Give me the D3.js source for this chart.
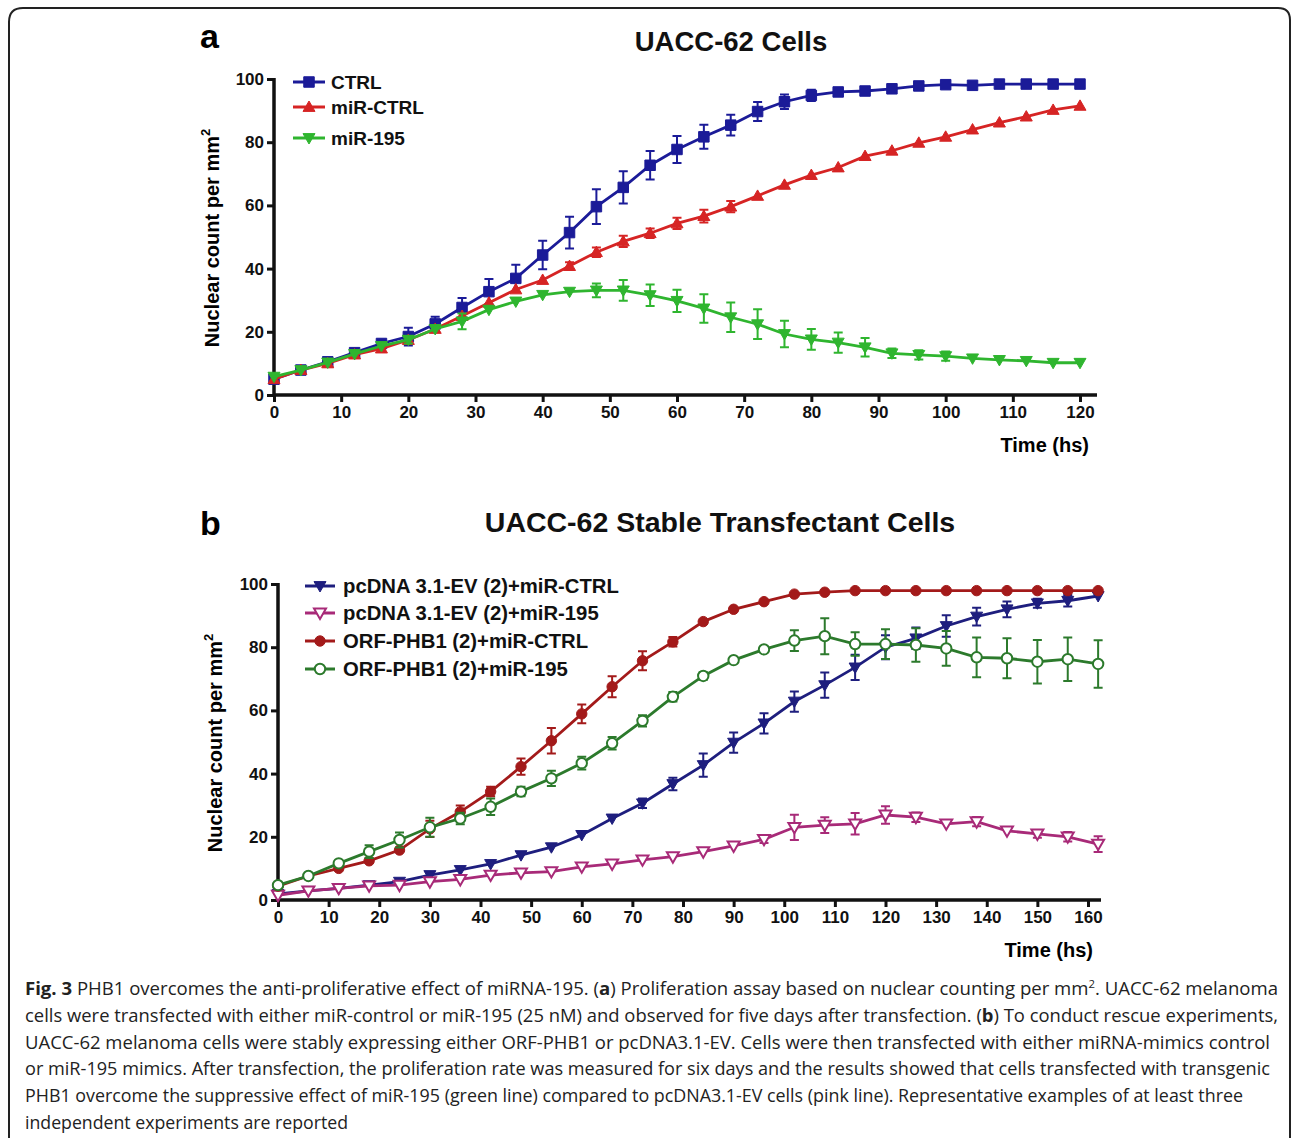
<!doctype html>
<html>
<head>
<meta charset="utf-8">
<style>
  body { margin: 0; background: #fff; }
  svg { display: block; }
</style>
</head>
<body>
<svg width="1293" height="1138"></svg>
<script src="https://d3js.org/d3.v7.min.js"></script>
<script>
  // ---- panel a data (hours, nuclear count per mm2, SEM) ----
  const timeA = [0, 4, 8, 12, 16, 20, 24, 28, 32, 36, 40, 44, 48, 52, 56, 60, 64, 68, 72, 76, 80, 84, 88, 92, 96, 100, 104, 108, 112, 116, 120];
  const ctrl = [5.0, 7.9, 10.5, 13.4, 16.3, 18.5, 22.5, 27.7, 32.7, 36.9, 44.3, 51.4, 59.6, 65.7, 72.7, 77.7, 81.7, 85.4, 89.7, 92.8, 94.8, 95.9, 96.2, 96.9, 97.8, 98.2, 98.0, 98.4, 98.4, 98.4, 98.4];
  const ctrlErr = [0.8, 0.8, 0.8, 1, 1.2, 2.8, 2.3, 3, 4, 4.3, 4.5, 5, 5.5, 5.1, 4.5, 4.3, 3.8, 3.3, 3, 2.3, 1.8, 0.5, 0.5, 0.5, 0.5, 0.5, 0.5, 0.5, 0.5, 0.5, 0.5];
  const mirCtrl = [5.0, 7.9, 10.0, 12.8, 14.7, 17.4, 20.9, 25.0, 29.2, 33.4, 36.4, 40.8, 45.2, 48.6, 51.2, 54.3, 56.6, 59.6, 63.0, 66.5, 69.6, 72.0, 75.6, 77.3, 79.8, 81.7, 84.0, 86.2, 88.1, 90.2, 91.5];
  const mirCtrlErr = [0.5, 0.5, 0.5, 0.5, 0.8, 0.8, 0.8, 1, 1, 1, 1, 1.2, 1.5, 1.8, 1.5, 1.8, 2, 1.8, 1, 0.8, 0.5, 0.5, 0.5, 0.5, 0.5, 0.5, 0.5, 0.5, 0.5, 0.5, 0.5];
  const mir195 = [5.8, 7.9, 10.3, 13.0, 15.5, 17.5, 20.9, 23.3, 27.0, 29.6, 31.7, 32.7, 33.1, 33.1, 31.6, 29.8, 27.4, 24.6, 22.4, 19.3, 17.6, 16.6, 15.1, 13.2, 12.7, 12.3, 11.6, 11.1, 10.8, 10.2, 10.2];
  const mir195Err = [0.8, 0.8, 0.8, 0.8, 0.8, 1.2, 1, 2.5, 1, 1, 1, 1, 2.2, 3.3, 3.4, 3.5, 4.5, 4.7, 4.7, 4.2, 3.3, 3.2, 2.9, 1.5, 1.5, 1.5, 1, 0.8, 0.8, 0.5, 0.5];

  // ---- panel b data ----
  const timeB = [0, 6, 12, 18, 24, 30, 36, 42, 48, 54, 60, 66, 72, 78, 84, 90, 96, 102, 108, 114, 120, 126, 132, 138, 144, 150, 156, 162];
  const evCtrl = [1.9, 2.9, 3.7, 4.7, 5.8, 7.9, 9.5, 11.4, 14.2, 16.7, 20.6, 25.8, 30.6, 36.7, 42.7, 49.8, 55.9, 62.8, 68.0, 73.6, 80.0, 82.8, 86.7, 89.7, 92.0, 93.9, 94.7, 96.2];
  const evCtrlErr = [0.6, 0.6, 0.6, 0.6, 0.6, 0.6, 0.6, 0.6, 0.6, 0.6, 1, 1, 1.5, 2, 3.7, 3.2, 3.2, 3.2, 4, 4, 3.8, 3.4, 3.4, 2.8, 2.5, 1.4, 1.8, 1];
  const ev195 = [1.5, 2.9, 3.7, 4.5, 4.7, 5.8, 6.5, 7.9, 8.6, 9.0, 10.5, 11.4, 12.7, 13.7, 15.3, 17.1, 19.2, 23.0, 23.7, 24.1, 26.9, 26.2, 24.1, 24.8, 21.9, 20.9, 20.0, 17.7];
  const ev195Err = [0.6, 0.6, 0.6, 0.6, 0.6, 0.6, 0.6, 0.6, 0.6, 0.6, 0.6, 0.6, 0.8, 0.8, 0.8, 1, 1.2, 4, 2.5, 3.4, 2.8, 1.5, 1, 1.5, 1, 1.2, 1.5, 2.5];
  const orfCtrl = [4.4, 7.6, 10.0, 12.4, 15.8, 22.5, 27.9, 34.3, 42.2, 50.4, 58.9, 67.5, 75.7, 81.7, 88.1, 92.0, 94.4, 96.8, 97.4, 97.9, 97.9, 97.9, 97.9, 97.9, 97.9, 97.9, 97.9, 97.9];
  const orfCtrlErr = [0.5, 0.5, 0.8, 1, 1, 2.6, 2, 1.5, 2.6, 4, 3, 3.3, 3, 1.5, 0.8, 0.5, 0.5, 0.5, 0.5, 0.5, 0.5, 0.5, 0.5, 0.5, 0.5, 0.5, 0.5, 0.5];
  const orf195 = [4.7, 7.6, 11.6, 15.3, 19.0, 23.0, 25.8, 29.5, 34.3, 38.5, 43.3, 49.6, 56.7, 64.3, 70.9, 75.9, 79.3, 82.1, 83.5, 81.0, 81.0, 80.7, 79.6, 76.8, 76.5, 75.4, 76.2, 74.7];
  const orf195Err = [0.5, 0.5, 0.8, 2, 2.4, 3, 1.8, 2.6, 1.5, 2.4, 2, 2, 1.8, 1.5, 1.2, 1, 1, 3.3, 5.7, 3.7, 4.7, 5.3, 5.5, 6.3, 6.3, 6.9, 6.9, 7.5];

  const yTicks = [0, 20, 40, 60, 80, 100];

  const SANS = "'Liberation Sans', Arial, sans-serif";
  const NARROW = "'Liberation Sans Narrow', 'Liberation Sans', Arial, sans-serif";

  const svg = d3.select("svg");

  // figure frame (rounded top, open at the bottom)
  svg.append("path")
    .attr("d", "M9,1140 L9,22 Q9,8 23,8 L1278,8 Q1290,8 1290,20 L1290,1140")
    .attr("fill", "none").attr("stroke", "#222").attr("stroke-width", 2);

  const panels = [
    {
      letter: "a", letterY: 48, title: "UACC-62 Cells", titleX: 731, titleY: 51, titleSize: 27.5,
      x: d3.scaleLinear().domain([0, 120]).range([274, 1080]),
      y: d3.scaleLinear().domain([0, 100]).range([395, 79]),
      xTicks: [0, 10, 20, 30, 40, 50, 60, 70, 80, 90, 100, 110, 120],
      xEnd: 1097, tickFont: SANS, tickSize: 17,
      timeX: 1089, timeY: 452, ylabX: 219, ylabY: 238,
      legend: { x0: 293, x1: 325, tx: 331, ys: [82, 107, 138], size: 19 },
      series: [
        { name: "CTRL", t: timeA, v: ctrl, e: ctrlErr, color: "#1b1b98", sym: "square", fill: true },
        { name: "miR-CTRL", t: timeA, v: mirCtrl, e: mirCtrlErr, color: "#d62424", sym: "triUp", fill: true },
        { name: "miR-195", t: timeA, v: mir195, e: mir195Err, color: "#2fb52f", sym: "triDown", fill: true }
      ]
    },
    {
      letter: "b", letterY: 535, title: "UACC-62 Stable Transfectant Cells", titleX: 720, titleY: 532, titleSize: 28.5,
      x: d3.scaleLinear().domain([0, 160]).range([278, 1088]),
      y: d3.scaleLinear().domain([0, 100]).range([900, 584]),
      xTicks: [0, 10, 20, 30, 40, 50, 60, 70, 80, 90, 100, 110, 120, 130, 140, 150, 160],
      xEnd: 1101, tickFont: NARROW, tickSize: 17,
      timeX: 1093, timeY: 957, ylabX: 222, ylabY: 743,
      legend: { x0: 305, x1: 335, tx: 343, ys: [586, 613, 641, 669], size: 20.3 },
      series: [
        { name: "pcDNA 3.1-EV (2)+miR-CTRL", t: timeB, v: evCtrl, e: evCtrlErr, color: "#1e1e7e", sym: "triDown", fill: true },
        { name: "pcDNA 3.1-EV (2)+miR-195", t: timeB, v: ev195, e: ev195Err, color: "#a82a78", sym: "triDown", fill: false },
        { name: "ORF-PHB1 (2)+miR-CTRL", t: timeB, v: orfCtrl, e: orfCtrlErr, color: "#a31a1a", sym: "circle", fill: true },
        { name: "ORF-PHB1 (2)+miR-195", t: timeB, v: orf195, e: orf195Err, color: "#2c7a2c", sym: "circle", fill: false }
      ]
    }
  ];

  function symbolPath(sym) {
    if (sym === "square") return d3.symbol(d3.symbolSquare, 110)();
    if (sym === "circle") return d3.symbol(d3.symbolCircle, 85)();
    if (sym === "triUp") return "M0,-6L6,4.4L-6,4.4Z";
    return "M0,6L6,-4.4L-6,-4.4Z";
  }

  function drawMarker(g, s, cx, cy) {
    g.append("path")
      .attr("d", symbolPath(s.sym))
      .attr("transform", `translate(${cx},${cy})`)
      .attr("fill", s.fill ? s.color : "#fff")
      .attr("stroke", s.color)
      .attr("stroke-width", s.fill ? 1 : 2);
  }

  panels.forEach(p => {
    const g = svg.append("g");
    const x = p.x, y = p.y;

    g.append("text").attr("x", 200).attr("y", p.letterY)
      .attr("font-family", SANS).attr("font-weight", "bold").attr("font-size", 34)
      .text(p.letter);
    g.append("text").attr("x", p.titleX).attr("y", p.titleY)
      .attr("text-anchor", "middle").attr("font-family", NARROW).attr("font-weight", "bold")
      .attr("font-size", p.titleSize).attr("fill", "#111")
      .text(p.title);

    // axes
    const yAxis = g.append("g").attr("transform", `translate(${x(0)},0)`)
      .call(d3.axisLeft(y).tickValues(yTicks).tickSize(7).tickPadding(3));
    const xAxis = g.append("g").attr("transform", `translate(0,${y(0)})`)
      .call(d3.axisBottom(x).tickValues(p.xTicks).tickSize(7).tickPadding(4));
    [xAxis, yAxis].forEach(ax => {
      ax.select(".domain").remove();
      ax.selectAll(".tick line").attr("stroke", "#111").attr("stroke-width", 3);
      ax.selectAll(".tick text").attr("fill", "#111").attr("font-family", p.tickFont)
        .attr("font-weight", "bold").attr("font-size", p.tickSize);
    });
    g.append("line").attr("x1", x(0) - 1).attr("x2", p.xEnd).attr("y1", y(0)).attr("y2", y(0))
      .attr("stroke", "#111").attr("stroke-width", 3.5);
    g.append("line").attr("x1", x(0)).attr("x2", x(0)).attr("y1", y(100) - 1).attr("y2", y(0) + 1)
      .attr("stroke", "#111").attr("stroke-width", 3.5);

    g.append("text").attr("x", p.timeX).attr("y", p.timeY).attr("text-anchor", "end")
      .attr("font-family", NARROW).attr("font-weight", "bold").attr("font-size", 20)
      .text("Time (hs)");
    const yl = g.append("text")
      .attr("transform", `translate(${p.ylabX},${p.ylabY}) rotate(-90)`)
      .attr("text-anchor", "middle").attr("font-family", SANS).attr("font-weight", "bold")
      .attr("font-size", 20);
    yl.append("tspan").text("Nuclear count per mm");
    yl.append("tspan").attr("dy", -9).attr("font-size", 13).text("2");

    const line = d3.line().x(d => x(d[0])).y(d => y(d[1]));

    p.series.forEach(s => {
      const pts = s.t.map((t, i) => [t, s.v[i], s.e[i]]);
      const sg = g.append("g");
      sg.append("path").datum(pts).attr("d", line)
        .attr("fill", "none").attr("stroke", s.color).attr("stroke-width", 2.8);
      pts.forEach(d => {
        const cx = x(d[0]), top = y(d[1] + d[2]), bot = y(d[1] - d[2]);
        if (bot - top > 7) {
          sg.append("path")
            .attr("d", `M${cx},${top}V${bot}M${cx - 4.5},${top}H${cx + 4.5}M${cx - 4.5},${bot}H${cx + 4.5}`)
            .attr("fill", "none").attr("stroke", s.color).attr("stroke-width", 2);
        }
      });
      pts.forEach(d => drawMarker(sg, s, x(d[0]), y(d[1])));
    });

    // legend
    const L = p.legend;
    p.series.forEach((s, i) => {
      const ly = L.ys[i];
      g.append("line").attr("x1", L.x0).attr("x2", L.x1).attr("y1", ly).attr("y2", ly)
        .attr("stroke", s.color).attr("stroke-width", 3);
      drawMarker(g, s, (L.x0 + L.x1) / 2, ly);
      g.append("text").attr("x", L.tx).attr("y", ly + 7)
        .attr("font-family", SANS).attr("font-weight", "bold").attr("font-size", L.size)
        .attr("fill", "#111").text(s.name);
    });
  });

  // caption
  const captionLines = [
    [["b", "Fig. 3"], ["", " PHB1 overcomes the anti-proliferative effect of miRNA-195. ("], ["b", "a"], ["", ") Proliferation assay based on nuclear counting per mm"], ["sup", "2"], ["", ". UACC-62 melanoma"]],
    [["", "cells were transfected with either miR-control or miR-195 (25 nM) and observed for five days after transfection. ("], ["b", "b"], ["", ") To conduct rescue experiments,"]],
    [["", "UACC-62 melanoma cells were stably expressing either ORF-PHB1 or pcDNA3.1-EV. Cells were then transfected with either miRNA-mimics control"]],
    [["", "or miR-195 mimics. After transfection, the proliferation rate was measured for six days and the results showed that cells transfected with transgenic"]],
    [["", "PHB1 overcome the suppressive effect of miR-195 (green line) compared to pcDNA3.1-EV cells (pink line). Representative examples of at least three"]],
    [["", "independent experiments are reported"]]
  ];
  const captionWidths = [1253, 1253, 1245, 1245, 1218, 323];

  captionLines.forEach((parts, i) => {
    const t = svg.append("text")
      .attr("x", 25).attr("y", 995 + i * 26.8)
      .attr("font-family", "'Open Sans', sans-serif").attr("font-size", 18).attr("fill", "#222")
      .attr("textLength", captionWidths[i]).attr("lengthAdjust", "spacingAndGlyphs");
    parts.forEach(([k, str]) => {
      const ts = t.append("tspan").text(str);
      if (k === "b") ts.attr("font-weight", "bold");
      if (k === "sup") ts.attr("font-size", 11).attr("dy", -7);
      if (k === "" && i === 0 && str.startsWith(". UACC")) ts.attr("dy", 7);
    });
  });
</script>
</body>
</html>
